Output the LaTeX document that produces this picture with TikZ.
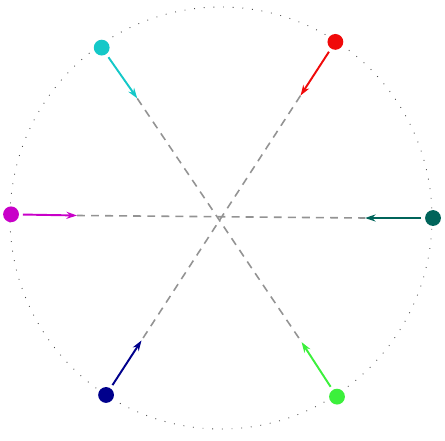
\documentclass[tikz,border=0pt]{standalone}
\usepackage{tikz}
\usetikzlibrary{arrows.meta,calc}
\definecolor{dotcyan}{RGB}{20,200,200}
\definecolor{dotred}{RGB}{240,10,10}
\definecolor{dotmag}{RGB}{200,0,200}
\definecolor{dotteal}{RGB}{0,100,90}
\definecolor{dotnavy}{RGB}{0,0,140}
\definecolor{dotgreen}{RGB}{60,240,60}
\tikzset{
  pt/.style={circle,inner sep=0pt,minimum size=9pt},
  push/.style={-{Stealth[length=6pt,width=4pt]},line width=1.1pt,shorten <=2pt},
  guide/.style={gray!85,line width=0.9pt,dash pattern=on 4.5pt off 3.5pt},
  rim/.style={black!70,line width=0.5pt,dash pattern=on 0.5pt off 5pt}
}
\begin{document}
\begin{tikzpicture}[x=0.02cm,y=0.02cm]
\useasboundingbox (-221,-222) rectangle (224,218);
\coordinate (O) at (0,0);
\draw[rim] (O) circle (211);
% points on the rim
\node[pt,fill=dotred]   (r) at (57:210) {};
\node[pt,fill=dotcyan]  (c) at (125:208) {};
\node[pt,fill=dotmag]   (m) at (179:210) {};
\node[pt,fill=dotnavy]  (n) at (237:211) {};
\node[pt,fill=dotgreen] (g) at (303:213) {};
\node[pt,fill=dotteal]  (t) at (0:212) {};
% arrow tips
\coordinate (rt) at (57:146);
\coordinate (ct) at (125:146);
\coordinate (mt) at (179:144);
\coordinate (nt) at (237:146);
\coordinate (gt) at (303:148);
\coordinate (tt) at (0:144);
% dashed chords through the centre
\draw[guide] (rt)--(nt);
\draw[guide] (ct)--(gt);
\draw[guide] (mt)--(tt);
\draw[push,dotred]   (r)--(rt);
\draw[push,dotcyan]  (c)--(ct);
\draw[push,dotmag]   (m)--(mt);
\draw[push,dotnavy]  (n)--(nt);
\draw[push,dotgreen] (g)--(gt);
\draw[push,dotteal]  (t)--(tt);
\end{tikzpicture}
\end{document}
